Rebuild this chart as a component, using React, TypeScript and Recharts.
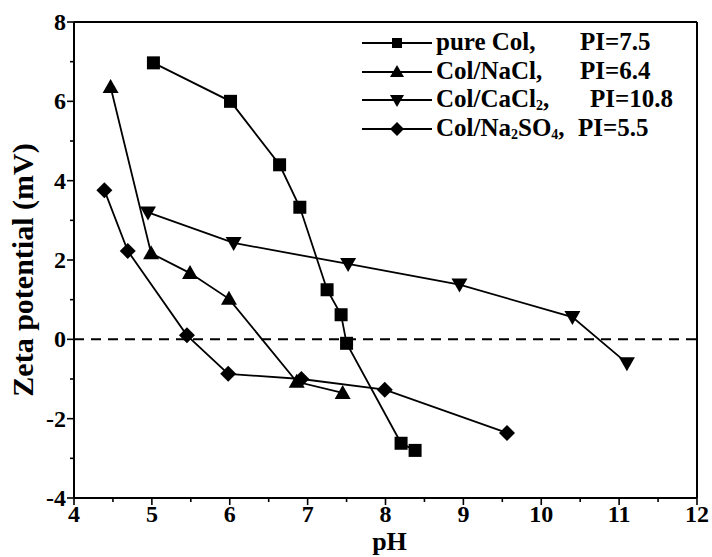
import React from 'react';
import { LineChart, Line, XAxis, YAxis, ReferenceLine } from 'recharts';

const pureCol = [
  { x: 5.02, y: 6.97 },
  { x: 6.01, y: 6.0 },
  { x: 6.64, y: 4.4 },
  { x: 6.9, y: 3.33 },
  { x: 7.25, y: 1.25 },
  { x: 7.43, y: 0.62 },
  { x: 7.5, y: -0.1 },
  { x: 8.2, y: -2.62 },
  { x: 8.38, y: -2.8 },
];
const colNaCl = [
  { x: 4.47, y: 6.36 },
  { x: 4.99, y: 2.17 },
  { x: 5.49, y: 1.67 },
  { x: 5.99, y: 1.02 },
  { x: 6.86, y: -1.07 },
  { x: 7.45, y: -1.35 },
];
const colCaCl2 = [
  { x: 4.95, y: 3.2 },
  { x: 6.05, y: 2.43 },
  { x: 7.52, y: 1.9 },
  { x: 8.95, y: 1.38 },
  { x: 10.4, y: 0.56 },
  { x: 11.1, y: -0.6 },
];
const colNa2SO4 = [
  { x: 4.39, y: 3.76 },
  { x: 4.69, y: 2.23 },
  { x: 5.45, y: 0.1 },
  { x: 5.98, y: -0.87 },
  { x: 6.92, y: -1.0 },
  { x: 7.99, y: -1.27 },
  { x: 9.56, y: -2.36 },
];

const xTicks = [4, 4.5, 5, 5.5, 6, 6.5, 7, 7.5, 8, 8.5, 9, 9.5, 10, 10.5, 11, 11.5, 12];
const yTicks = [-4, -3, -2, -1, 0, 1, 2, 3, 4, 5, 6, 7, 8];

const FONT = '"Liberation Serif", "Times New Roman", serif';

type Shape = 'square' | 'up' | 'down' | 'diamond';

const Marker = ({ cx, cy, shape }: { cx: number; cy: number; shape: Shape }) => {
  if (cx == null || cy == null) return null;
  if (shape === 'square') {
    return <rect x={cx - 6.5} y={cy - 6.5} width={13} height={13} fill="#000" />;
  }
  if (shape === 'up') {
    return <polygon points={`${cx},${cy - 8} ${cx - 8},${cy + 6} ${cx + 8},${cy + 6}`} fill="#000" />;
  }
  if (shape === 'down') {
    return <polygon points={`${cx},${cy + 8} ${cx - 8},${cy - 6} ${cx + 8},${cy - 6}`} fill="#000" />;
  }
  return <polygon points={`${cx},${cy - 8} ${cx + 8},${cy} ${cx},${cy + 8} ${cx - 8},${cy}`} fill="#000" />;
};

const dotFor = (shape: Shape) => (props: any) => (
  <Marker key={`${shape}-${props.index}`} cx={props.cx} cy={props.cy} shape={shape} />
);

const XTick = (props: any) => {
  const { x, y, payload } = props;
  const v = payload.value;
  const major = Number.isInteger(v);
  return (
    <g>
      <line x1={x} x2={x} y1={y} y2={y + (major ? 7 : 4)} stroke="#000" strokeWidth={1.6} />
      {major && (
        <text x={x} y={y + 24} textAnchor="middle" fontFamily={FONT} fontWeight={700} fontSize={24} fill="#000">
          {v}
        </text>
      )}
    </g>
  );
};

const YTick = (props: any) => {
  const { x, y, payload } = props;
  const v = payload.value;
  const major = v % 2 === 0;
  return (
    <g>
      <line x1={x} x2={x - (major ? 7 : 4)} y1={y} y2={y} stroke="#000" strokeWidth={1.6} />
      {major && (
        <text x={x - 8} y={y + 8} textAnchor="end" fontFamily={FONT} fontWeight={700} fontSize={24} fill="#000">
          {v}
        </text>
      )}
    </g>
  );
};

const subStyle: React.CSSProperties = { fontSize: 14, verticalAlign: 'baseline', position: 'relative', top: 3 };

const legendItems: { name: React.ReactNode; pi: string; shape: Shape; piLeft: number }[] = [
  { name: 'pure Col,', pi: 'PI=7.5', shape: 'square', piLeft: 144 },
  { name: 'Col/NaCl,', pi: 'PI=6.4', shape: 'up', piLeft: 144 },
  {
    name: (
      <span>
        Col/CaCl<sub style={subStyle}>2</sub>,
      </span>
    ),
    pi: 'PI=10.8',
    shape: 'down',
    piLeft: 154,
  },
  {
    name: (
      <span>
        Col/Na<sub style={subStyle}>2</sub>SO<sub style={subStyle}>4</sub>,
      </span>
    ),
    pi: 'PI=5.5',
    shape: 'diamond',
    piLeft: 142,
  },
];

const ChartLegend = () => (
  <div
    style={{
      position: 'absolute',
      left: 362,
      top: 28,
      width: 335,
      fontFamily: FONT,
      fontWeight: 700,
      fontSize: 25,
      color: '#000',
    }}
  >
    {legendItems.map((it, i) => (
      <div key={i} style={{ position: 'relative', height: 28.5, lineHeight: '28.5px', whiteSpace: 'nowrap' }}>
        <svg width={70} height={29} style={{ position: 'absolute', left: 0, top: 0 }}>
          <line x1={0} x2={70} y1={15} y2={15} stroke="#000" strokeWidth={2} />
          {it.shape === 'square' ? (
            <rect x={30} y={10} width={10} height={10} fill="#000" />
          ) : it.shape === 'up' ? (
            <polygon points="35,8 28,20 42,20" fill="#000" />
          ) : it.shape === 'down' ? (
            <polygon points="35,22 28,10 42,10" fill="#000" />
          ) : (
            <polygon points="35,8 42,15 35,22 28,15" fill="#000" />
          )}
        </svg>
        <span style={{ position: 'absolute', left: 74, top: 0 }}>{it.name}</span>
        <span style={{ position: 'absolute', left: 74 + it.piLeft, top: 0 }}>{it.pi}</span>
      </div>
    ))}
  </div>
);

const YLabel = (props: any) => {
  const vb = props.viewBox || {};
  const cx = vb.x + 22;
  const cy = vb.y + vb.height / 2 + 10;
  return (
    <text
      x={cx}
      y={cy}
      transform={`rotate(-90, ${cx}, ${cy})`}
      textAnchor="middle"
      dominantBaseline="central"
      fontFamily={FONT}
      fontWeight={700}
      fontSize={30}
      fill="#000"
    >
      Zeta potential (mV)
    </text>
  );
};

export default function App() {
  return (
    <div style={{ position: 'absolute', left: 0, top: 0, width: 712, height: 557, background: '#fff' }}>
      <LineChart width={712} height={557} margin={{ top: 22, right: 15, left: 0, bottom: 0 }}>
        <XAxis
          dataKey="x"
          type="number"
          domain={[4, 12]}
          ticks={xTicks}
          interval={0}
          tick={<XTick />}
          tickLine={false}
          tickSize={0}
          tickMargin={0}
          height={59}
          axisLine={{ stroke: '#000', strokeWidth: 2 }}
          allowDuplicatedCategory={false}
          label={{
            value: 'pH',
            position: 'insideBottom',
            offset: 7,
            dx: 4,
            style: { fontFamily: FONT, fontWeight: 700, fontSize: 26, fill: '#000' },
          }}
        />
        <YAxis
          dataKey="y"
          type="number"
          domain={[-4, 8]}
          ticks={yTicks}
          interval={0}
          tick={<YTick />}
          tickLine={false}
          tickSize={0}
          tickMargin={0}
          width={74}
          axisLine={{ stroke: '#000', strokeWidth: 2 }}
          label={<YLabel />}
        />
        <ReferenceLine y={8} stroke="#000" strokeWidth={2} />
        <ReferenceLine x={12} stroke="#000" strokeWidth={2} />
        <ReferenceLine y={0} stroke="#000" strokeWidth={2} strokeDasharray="10 7" />
        <Line data={pureCol} dataKey="y" name="pure Col" stroke="#000" strokeWidth={1.8} dot={dotFor('square')} isAnimationActive={false} />
        <Line data={colNaCl} dataKey="y" name="Col/NaCl" stroke="#000" strokeWidth={1.8} dot={dotFor('up')} isAnimationActive={false} />
        <Line data={colCaCl2} dataKey="y" name="Col/CaCl2" stroke="#000" strokeWidth={1.8} dot={dotFor('down')} isAnimationActive={false} />
        <Line data={colNa2SO4} dataKey="y" name="Col/Na2SO4" stroke="#000" strokeWidth={1.8} dot={dotFor('diamond')} isAnimationActive={false} />
      </LineChart>
      <ChartLegend />
    </div>
  );
}
